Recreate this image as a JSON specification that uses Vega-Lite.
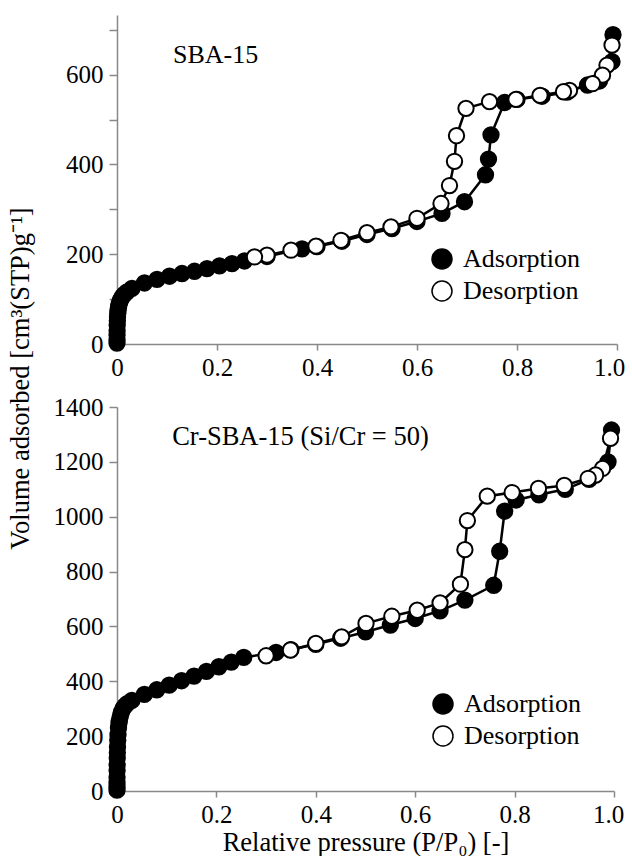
{
  "$schema": "https://vega.github.io/schema/vega-lite/v6.json",
  "background": "white",
  "padding": {"left": 7, "top": 15, "right": 0, "bottom": 0},
  "config": {
    "view": {"stroke": null},
    "font": "Liberation Serif, serif",
    "text": {"font": "Liberation Serif, serif"},
    "style": {
      "guide-label": {"font": "Liberation Serif, serif"},
      "guide-title": {"font": "Liberation Serif, serif"}
    },
    "axis": {
      "domainColor": "#898989", "tickColor": "#898989", "domainWidth": 1.5, "tickWidth": 1.5,
      "labelColor": "black", "labelFont": "Liberation Serif, serif", "labelFontSize": 25,
      "titleFont": "Liberation Serif, serif", "titleFontSize": 26.5, "titleFontWeight": "normal", "titleColor": "black",
      "grid": false, "labelFlush": false
    },
    "legend": {
      "orient": "none", "title": null, "symbolType": "circle", "symbolSize": 400,
      "symbolStrokeColor": "black", "symbolStrokeWidth": 1.5,
      "labelFont": "Liberation Serif, serif", "labelFontSize": 26, "labelColor": "black",
      "labelOffset": 8, "rowPadding": 6, "padding": 0
    }
  },
  "datasets": {
    "sba": [
      {"p": 0.00001, "v": 2, "branch": "Adsorption"},
      {"p": 0.00005, "v": 10, "branch": "Adsorption"},
      {"p": 0.0001, "v": 20, "branch": "Adsorption"},
      {"p": 0.0002, "v": 30, "branch": "Adsorption"},
      {"p": 0.0004, "v": 42, "branch": "Adsorption"},
      {"p": 0.0007, "v": 52, "branch": "Adsorption"},
      {"p": 0.001, "v": 60, "branch": "Adsorption"},
      {"p": 0.0015, "v": 68, "branch": "Adsorption"},
      {"p": 0.002, "v": 74, "branch": "Adsorption"},
      {"p": 0.003, "v": 82, "branch": "Adsorption"},
      {"p": 0.004, "v": 88, "branch": "Adsorption"},
      {"p": 0.006, "v": 95, "branch": "Adsorption"},
      {"p": 0.008, "v": 100, "branch": "Adsorption"},
      {"p": 0.011, "v": 106, "branch": "Adsorption"},
      {"p": 0.015, "v": 111, "branch": "Adsorption"},
      {"p": 0.02, "v": 116, "branch": "Adsorption"},
      {"p": 0.03, "v": 124, "branch": "Adsorption"},
      {"p": 0.055, "v": 136, "branch": "Adsorption"},
      {"p": 0.08, "v": 144, "branch": "Adsorption"},
      {"p": 0.105, "v": 151, "branch": "Adsorption"},
      {"p": 0.13, "v": 157, "branch": "Adsorption"},
      {"p": 0.155, "v": 162, "branch": "Adsorption"},
      {"p": 0.18, "v": 168, "branch": "Adsorption"},
      {"p": 0.205, "v": 174, "branch": "Adsorption"},
      {"p": 0.23, "v": 179, "branch": "Adsorption"},
      {"p": 0.255, "v": 185, "branch": "Adsorption"},
      {"p": 0.30, "v": 195, "branch": "Adsorption"},
      {"p": 0.37, "v": 212, "branch": "Adsorption"},
      {"p": 0.40, "v": 217, "branch": "Adsorption"},
      {"p": 0.45, "v": 229, "branch": "Adsorption"},
      {"p": 0.50, "v": 244, "branch": "Adsorption"},
      {"p": 0.55, "v": 257, "branch": "Adsorption"},
      {"p": 0.60, "v": 273, "branch": "Adsorption"},
      {"p": 0.65, "v": 291, "branch": "Adsorption"},
      {"p": 0.695, "v": 317, "branch": "Adsorption"},
      {"p": 0.737, "v": 377, "branch": "Adsorption"},
      {"p": 0.743, "v": 412, "branch": "Adsorption"},
      {"p": 0.748, "v": 466, "branch": "Adsorption"},
      {"p": 0.775, "v": 538, "branch": "Adsorption"},
      {"p": 0.80, "v": 545, "branch": "Adsorption"},
      {"p": 0.85, "v": 552, "branch": "Adsorption"},
      {"p": 0.90, "v": 561, "branch": "Adsorption"},
      {"p": 0.941, "v": 577, "branch": "Adsorption"},
      {"p": 0.965, "v": 586, "branch": "Adsorption"},
      {"p": 0.99, "v": 629, "branch": "Adsorption"},
      {"p": 0.992, "v": 689, "branch": "Adsorption"},
      {"p": 0.99, "v": 666, "branch": "Desorption"},
      {"p": 0.98, "v": 621, "branch": "Desorption"},
      {"p": 0.971, "v": 599, "branch": "Desorption"},
      {"p": 0.951, "v": 580, "branch": "Desorption"},
      {"p": 0.905, "v": 565, "branch": "Desorption"},
      {"p": 0.893, "v": 562, "branch": "Desorption"},
      {"p": 0.846, "v": 554, "branch": "Desorption"},
      {"p": 0.798, "v": 545, "branch": "Desorption"},
      {"p": 0.745, "v": 540, "branch": "Desorption"},
      {"p": 0.698, "v": 525, "branch": "Desorption"},
      {"p": 0.679, "v": 464, "branch": "Desorption"},
      {"p": 0.675, "v": 407, "branch": "Desorption"},
      {"p": 0.665, "v": 353, "branch": "Desorption"},
      {"p": 0.648, "v": 313, "branch": "Desorption"},
      {"p": 0.60, "v": 280, "branch": "Desorption"},
      {"p": 0.548, "v": 261, "branch": "Desorption"},
      {"p": 0.50, "v": 248, "branch": "Desorption"},
      {"p": 0.448, "v": 231, "branch": "Desorption"},
      {"p": 0.398, "v": 218, "branch": "Desorption"},
      {"p": 0.348, "v": 209, "branch": "Desorption"},
      {"p": 0.30, "v": 198, "branch": "Desorption"},
      {"p": 0.275, "v": 194, "branch": "Desorption"}
    ],
    "cr": [
      {"p": 0.00001, "v": 3, "branch": "Adsorption"},
      {"p": 0.00003, "v": 15, "branch": "Adsorption"},
      {"p": 0.00005, "v": 30, "branch": "Adsorption"},
      {"p": 0.0001, "v": 50, "branch": "Adsorption"},
      {"p": 0.0002, "v": 75, "branch": "Adsorption"},
      {"p": 0.0003, "v": 95, "branch": "Adsorption"},
      {"p": 0.0005, "v": 120, "branch": "Adsorption"},
      {"p": 0.0007, "v": 140, "branch": "Adsorption"},
      {"p": 0.001, "v": 160, "branch": "Adsorption"},
      {"p": 0.0015, "v": 185, "branch": "Adsorption"},
      {"p": 0.002, "v": 205, "branch": "Adsorption"},
      {"p": 0.003, "v": 230, "branch": "Adsorption"},
      {"p": 0.004, "v": 248, "branch": "Adsorption"},
      {"p": 0.005, "v": 260, "branch": "Adsorption"},
      {"p": 0.007, "v": 275, "branch": "Adsorption"},
      {"p": 0.009, "v": 288, "branch": "Adsorption"},
      {"p": 0.012, "v": 300, "branch": "Adsorption"},
      {"p": 0.016, "v": 310, "branch": "Adsorption"},
      {"p": 0.02, "v": 318, "branch": "Adsorption"},
      {"p": 0.03, "v": 330, "branch": "Adsorption"},
      {"p": 0.055, "v": 352, "branch": "Adsorption"},
      {"p": 0.08, "v": 369, "branch": "Adsorption"},
      {"p": 0.105, "v": 386, "branch": "Adsorption"},
      {"p": 0.13, "v": 402, "branch": "Adsorption"},
      {"p": 0.155, "v": 419, "branch": "Adsorption"},
      {"p": 0.18, "v": 436, "branch": "Adsorption"},
      {"p": 0.205, "v": 453, "branch": "Adsorption"},
      {"p": 0.23, "v": 470, "branch": "Adsorption"},
      {"p": 0.255, "v": 487, "branch": "Adsorption"},
      {"p": 0.32, "v": 505, "branch": "Adsorption"},
      {"p": 0.35, "v": 515, "branch": "Adsorption"},
      {"p": 0.40, "v": 535, "branch": "Adsorption"},
      {"p": 0.45, "v": 557, "branch": "Adsorption"},
      {"p": 0.50, "v": 580, "branch": "Adsorption"},
      {"p": 0.55, "v": 605, "branch": "Adsorption"},
      {"p": 0.60, "v": 629, "branch": "Adsorption"},
      {"p": 0.65, "v": 657, "branch": "Adsorption"},
      {"p": 0.70, "v": 696, "branch": "Adsorption"},
      {"p": 0.758, "v": 750, "branch": "Adsorption"},
      {"p": 0.770, "v": 874, "branch": "Adsorption"},
      {"p": 0.780, "v": 1020, "branch": "Adsorption"},
      {"p": 0.803, "v": 1061, "branch": "Adsorption"},
      {"p": 0.849, "v": 1080, "branch": "Adsorption"},
      {"p": 0.902, "v": 1100, "branch": "Adsorption"},
      {"p": 0.95, "v": 1136, "branch": "Adsorption"},
      {"p": 0.988, "v": 1200, "branch": "Adsorption"},
      {"p": 0.995, "v": 1316, "branch": "Adsorption"},
      {"p": 0.993, "v": 1286, "branch": "Desorption"},
      {"p": 0.977, "v": 1176, "branch": "Desorption"},
      {"p": 0.963, "v": 1152, "branch": "Desorption"},
      {"p": 0.948, "v": 1140, "branch": "Desorption"},
      {"p": 0.90, "v": 1114, "branch": "Desorption"},
      {"p": 0.848, "v": 1103, "branch": "Desorption"},
      {"p": 0.795, "v": 1088, "branch": "Desorption"},
      {"p": 0.745, "v": 1075, "branch": "Desorption"},
      {"p": 0.705, "v": 986, "branch": "Desorption"},
      {"p": 0.70, "v": 880, "branch": "Desorption"},
      {"p": 0.691, "v": 754, "branch": "Desorption"},
      {"p": 0.65, "v": 686, "branch": "Desorption"},
      {"p": 0.604, "v": 659, "branch": "Desorption"},
      {"p": 0.553, "v": 637, "branch": "Desorption"},
      {"p": 0.501, "v": 611, "branch": "Desorption"},
      {"p": 0.452, "v": 562, "branch": "Desorption"},
      {"p": 0.40, "v": 538, "branch": "Desorption"},
      {"p": 0.349, "v": 514, "branch": "Desorption"},
      {"p": 0.30, "v": 493, "branch": "Desorption"}
    ]
  },
  "bounds": "flush",
  "spacing": 63,
  "resolve": {
    "scale": {"x": "independent", "y": "independent", "fill": "independent"},
    "legend": {"fill": "independent"}
  },
  "vconcat": [
    {
      "width": 500,
      "height": 329,
      "layer": [
        {
          "data": {"name": "sba"},
          "mark": {"type": "line", "color": "black", "strokeWidth": 2.5},
          "encoding": {
            "x": {"field": "p", "type": "quantitative", "scale": {"domain": [0, 1], "nice": false}},
            "y": {"field": "v", "type": "quantitative", "scale": {"domain": [0, 733], "nice": false}},
            "detail": {"field": "branch"}
          }
        },
        {
          "data": {"name": "sba"},
          "mark": {"type": "point", "shape": "circle", "filled": true, "stroke": "black", "strokeWidth": 2, "size": 235, "opacity": 1},
          "encoding": {
            "x": {"field": "p", "type": "quantitative",
              "axis": {"title": null, "values": [0, 0.2, 0.4, 0.6, 0.8, 1], "tickSize": 6, "labelPadding": 5,
                "labelExpr": "datum.value == 0 ? '0' : format(datum.value, '.1f')",
                "labelOffset": {"condition": {"test": "datum.value == 1", "value": -8}, "value": 0}}},
            "y": {"field": "v", "type": "quantitative",
              "axis": {"values": [0, 100, 200, 300, 400, 500, 600, 700], "tickSize": 8, "labelPadding": 6,
                "labelExpr": "datum.value % 200 == 0 ? format(datum.value, 'd') : ''",
                "title": "Volume adsorbed [cm³(STP)g⁻¹]", "titleX": -89, "titleY": 363, "titleAngle": 270,
                "titleAlign": "center", "titleBaseline": "alphabetic"}},
            "fill": {"field": "branch", "type": "nominal",
              "scale": {"domain": ["Adsorption", "Desorption"], "range": ["black", "white"]},
              "legend": {"legendX": 312, "legendY": 231}}
          }
        },
        {
          "data": {"values": [{"label": "SBA-15"}]},
          "mark": {"type": "text", "align": "left", "baseline": "alphabetic", "fontSize": 26, "font": "Liberation Serif, serif", "color": "black"},
          "encoding": {
            "x": {"datum": 0.112, "type": "quantitative"},
            "y": {"datum": 626, "type": "quantitative"},
            "text": {"field": "label"}
          }
        }
      ]
    },
    {
      "width": 497,
      "height": 384,
      "layer": [
        {
          "data": {"name": "cr"},
          "mark": {"type": "line", "color": "black", "strokeWidth": 2.5},
          "encoding": {
            "x": {"field": "p", "type": "quantitative", "scale": {"domain": [0, 1], "nice": false}},
            "y": {"field": "v", "type": "quantitative", "scale": {"domain": [0, 1400], "nice": false}},
            "detail": {"field": "branch"}
          }
        },
        {
          "data": {"name": "cr"},
          "mark": {"type": "point", "shape": "circle", "filled": true, "stroke": "black", "strokeWidth": 2, "size": 235, "opacity": 1},
          "encoding": {
            "x": {"field": "p", "type": "quantitative",
              "axis": {"title": "Relative pressure (P/P₀) [-]", "titlePadding": 2, "values": [0, 0.2, 0.4, 0.6, 0.8, 1], "tickSize": 6, "labelPadding": 5,
                "labelExpr": "datum.value == 0 ? '0' : format(datum.value, '.1f')",
                "labelOffset": {"condition": {"test": "datum.value == 1", "value": -6}, "value": 0}}},
            "y": {"field": "v", "type": "quantitative",
              "axis": {"values": [0, 200, 400, 600, 800, 1000, 1200, 1400], "format": "d", "tickSize": 8, "labelPadding": 6, "title": null}},
            "fill": {"field": "branch", "type": "nominal",
              "scale": {"domain": ["Adsorption", "Desorption"], "range": ["black", "white"]},
              "legend": {"legendX": 313, "legendY": 284}}
          }
        },
        {
          "data": {"values": [{"label": "Cr-SBA-15 (Si/Cr = 50)"}]},
          "mark": {"type": "text", "align": "left", "baseline": "alphabetic", "fontSize": 26.5, "font": "Liberation Serif, serif", "color": "black"},
          "encoding": {
            "x": {"datum": 0.111, "type": "quantitative"},
            "y": {"datum": 1262, "type": "quantitative"},
            "text": {"field": "label"}
          }
        }
      ]
    }
  ]
}
